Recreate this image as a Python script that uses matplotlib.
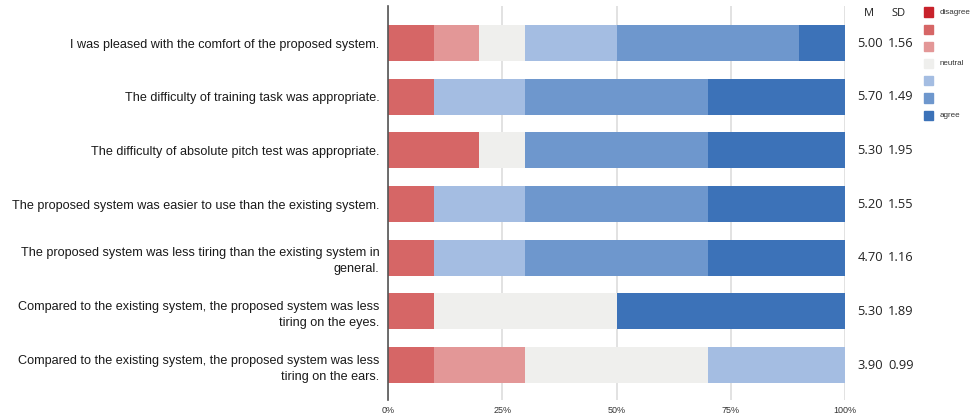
import matplotlib
matplotlib.use("Agg")
import matplotlib.pyplot as plt
import numpy as np

questions = [
    "I was pleased with the comfort of the proposed system.",
    "The difficulty of training task was appropriate.",
    "The difficulty of absolute pitch test was appropriate.",
    "The proposed system was easier to use than the existing system.",
    "The proposed system was less tiring than the existing system in\ngeneral.",
    "Compared to the existing system, the proposed system was less\ntiring on the eyes.",
    "Compared to the existing system, the proposed system was less\ntiring on the ears.",
]
levels = ["disagree", "", "", "neutral", "", "", "agree"]
# percentages per level (1..7) for each question
s1 = [0, 0, 0, 0, 0, 0, 0]
s2 = [10, 10, 20, 10, 10, 10, 10]
s3 = [10, 0, 0, 0, 0, 0, 20]
s4 = [10, 0, 10, 0, 0, 40, 40]
s5 = [20, 20, 0, 20, 20, 0, 30]
s6 = [40, 40, 40, 40, 40, 0, 0]
s7 = [10, 30, 30, 30, 30, 50, 0]
means = ["5.00", "5.70", "5.30", "5.20", "4.70", "5.30", "3.90"]
sds = ["1.56", "1.49", "1.95", "1.55", "1.16", "1.89", "0.99"]
xticks = [0, 25, 50, 75, 100]
xticklabels = ["0%", "25%", "50%", "75%", "100%"]

colors = ["#C8222B", "#D66666", "#E39797", "#EFEFED", "#A4BDE2", "#6E97CD", "#3C72B8"]

series = [s1, s2, s3, s4, s5, s6, s7]

fig = plt.figure(figsize=(9.76, 4.2), dpi=100)
ax = fig.add_axes([388/976, 1-400/420, 457/976, 394/420])

y = np.arange(len(questions))
left = np.zeros(len(questions))
for vals, c in zip(series, colors):
    vals = np.array(vals, dtype=float)
    ax.barh(y, vals, left=left, height=0.67, color=c, edgecolor="none", zorder=3)
    left += vals

ax.set_xlim(0, 100)
ax.set_ylim(6.65, -0.69)
ax.set_yticks(y)
ax.set_yticklabels(questions, fontsize=9.1, family=["Liberation Sans", "DejaVu Sans"],
                   color="#1A1A1A", linespacing=1.45)
ax.set_xticks(xticks)
ax.set_xticklabels(xticklabels, fontsize=6.5, family=["Liberation Sans", "DejaVu Sans"], color="#333333")
ax.tick_params(axis="both", length=0)
ax.tick_params(axis="y", pad=6)
ax.tick_params(axis="x", pad=4)
for sp in ["top", "right", "bottom"]:
    ax.spines[sp].set_visible(False)
ax.spines["left"].set_color("#555555")
ax.spines["left"].set_linewidth(1.2)
ax.spines["left"].set_zorder(4)
ax.xaxis.grid(True, color="#DDDDDD", linewidth=1.2, zorder=0)
ax.set_axisbelow(True)

# M / SD columns
tf = ["Open Sans", "DejaVu Sans"]
fig.text(869/976, 1-14/420, "M", ha="center", va="center", fontsize=8, family=tf, color="#222222")
fig.text(899/976, 1-14/420, "SD", ha="center", va="center", fontsize=8, family=tf, color="#222222")
for i in range(len(questions)):
    ax.annotate(means[i], xy=(1.0, y[i]), xycoords=("axes fraction", "data"),
                xytext=(8.8, 0), textcoords="offset points", ha="left", va="center",
                fontsize=9.3, family=tf, color="#222222")
    ax.annotate(sds[i], xy=(1.0, y[i]), xycoords=("axes fraction", "data"),
                xytext=(31, 0), textcoords="offset points", ha="left", va="center",
                fontsize=9.3, family=tf, color="#222222")

# legend
for k, (lab, c) in enumerate(zip(levels, colors)):
    yy = 1 - (12 + k * 17.2) / 420
    fig.patches.append(plt.Rectangle((924/976, yy - 4.5/420), 9/976, 9/420,
                                     transform=fig.transFigure, color=c, figure=fig))
    if lab:
        fig.text(940/976, yy, lab, ha="left", va="center", fontsize=5.8,
                 family=["Liberation Sans", "DejaVu Sans"], color="#333333")

fig.savefig("out.png", dpi=100, facecolor="white")
